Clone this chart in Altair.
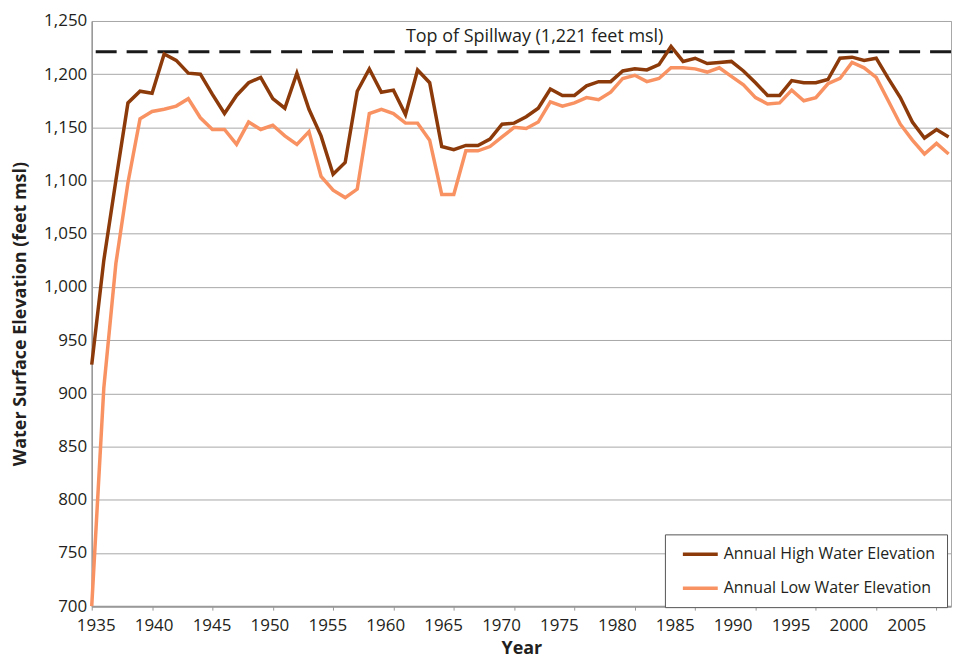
import altair as alt
import pandas as pd

# ---------------- data ----------------
years = list(range(1935, 2007))

high = [927, 1025, 1100, 1173, 1184, 1182, 1219, 1213, 1201, 1200,
        1181, 1163, 1180, 1192, 1197, 1177, 1168, 1201, 1167, 1142,
        1106, 1117, 1184, 1205, 1183, 1185, 1162, 1204, 1192, 1132,
        1129, 1133, 1133, 1139, 1153, 1154, 1160, 1168, 1186, 1180,
        1180, 1189, 1193, 1193, 1203, 1205, 1204, 1209, 1226, 1212,
        1215, 1210, 1211, 1212, 1203, 1192, 1180, 1180, 1194, 1192,
        1192, 1195, 1215, 1216, 1213, 1215, 1196, 1178, 1155, 1140,
        1148, 1141]

low = [700, 905, 1022, 1098, 1158, 1165, 1167, 1170, 1177, 1159,
       1148, 1148, 1134, 1155, 1148, 1152, 1142, 1134, 1146, 1104,
       1091, 1084, 1092, 1163, 1167, 1163, 1154, 1154, 1138, 1087,
       1087, 1128, 1128, 1132, 1141, 1150, 1149, 1155, 1174, 1170,
       1173, 1178, 1176, 1183, 1196, 1199, 1193, 1196, 1206, 1206,
       1205, 1202, 1206, 1198, 1190, 1178, 1172, 1173, 1185, 1175,
       1178, 1191, 1196, 1211, 1206, 1197, 1175, 1153, 1138, 1125,
       1135, 1125]

series_names = ["Annual High Water Elevation", "Annual Low Water Elevation"]
series_colors = ["#8C3A0A", "#F99262"]

spillway_value = 1221
spillway_label = "Top of Spillway (1,221 feet msl)"
spillway_label_year = 1971.7

x_ticks = list(range(1935, 2006, 5))
y_ticks = list(range(700, 1251, 50))

df = pd.DataFrame({
    "Year": years + years,
    "Elevation": high + low,
    "Series": [series_names[0]] * len(years) + [series_names[1]] * len(years),
})

FONT = "Open Sans"
TXT = "#231F20"

x_scale = alt.Scale(domain=[1935, 2006.2], nice=False, zero=False)
y_scale = alt.Scale(domain=[700, 1250], nice=False, zero=False)

lines = alt.Chart(df).mark_line(strokeWidth=3.5).encode(
    x=alt.X("Year:Q", scale=x_scale,
            axis=alt.Axis(values=x_ticks, format="d", title="Year", grid=False,
                          tickSize=4, tickColor="#999", domainColor="#999", domainWidth=2,
                          labelPadding=7, labelFont=FONT, labelFontSize=17, labelColor=TXT,
                          labelFlush=False,
                          labelOffset={"expr": "4 - 0.49*(datum.value - 1935)"},
                          titleFont=FONT, titleFontSize=18, titleFontWeight="bold",
                          titleColor=TXT, titlePadding=7)),
    y=alt.Y("Elevation:Q", scale=y_scale,
            axis=alt.Axis(values=y_ticks, format=",d", title="Water Surface Elevation (feet msl)",
                          grid=True, gridColor="#A8A8A8", gridWidth=1,
                          tickSize=0, domainColor="#999", domainWidth=1.5,
                          labelPadding=5, labelFont=FONT, labelFontSize=17, labelColor=TXT,
                          titleFont=FONT, titleFontSize=18, titleFontWeight="bold",
                          titleColor=TXT, titlePadding=14)),
    color=alt.Color("Series:N",
                    scale=alt.Scale(domain=series_names, range=series_colors),
                    legend=alt.Legend(orient="none", legendX=575, legendY=515, title=None,
                                      symbolType="M-2.5,0H2.5", symbolSize=196,
                                      symbolStrokeWidth=3.5, symbolOffset=15.5,
                                      labelFont=FONT, labelFontSize=16, labelColor=TXT,
                                      labelLimit=0, labelOffset=14.5, rowPadding=17, padding=11,
                                      strokeColor="#555", fillColor="white")),
)

rule = alt.Chart(pd.DataFrame({"v": [spillway_value]})).mark_rule(
    strokeDash=[21, 10], strokeWidth=3, color="#1A1A1A"
).encode(y=alt.Y("v:Q", scale=y_scale))

label = alt.Chart(pd.DataFrame({"t": [spillway_label]})).mark_text(
    font=FONT, fontSize=18, color=TXT, align="center", baseline="alphabetic", dy=-10
).encode(
    x=alt.datum(spillway_label_year, scale=x_scale),
    y=alt.datum(spillway_value, scale=y_scale),
    text="t:N",
)

chart = alt.layer(rule, lines, label).properties(
    width=862, height=587,
    padding={"left": 3, "top": 3, "right": 0, "bottom": 0},
    background="white",
).configure_view(stroke="#A8A8A8", strokeWidth=1)

chart.save("out.html", embed_options={"renderer": "svg", "actions": False})
